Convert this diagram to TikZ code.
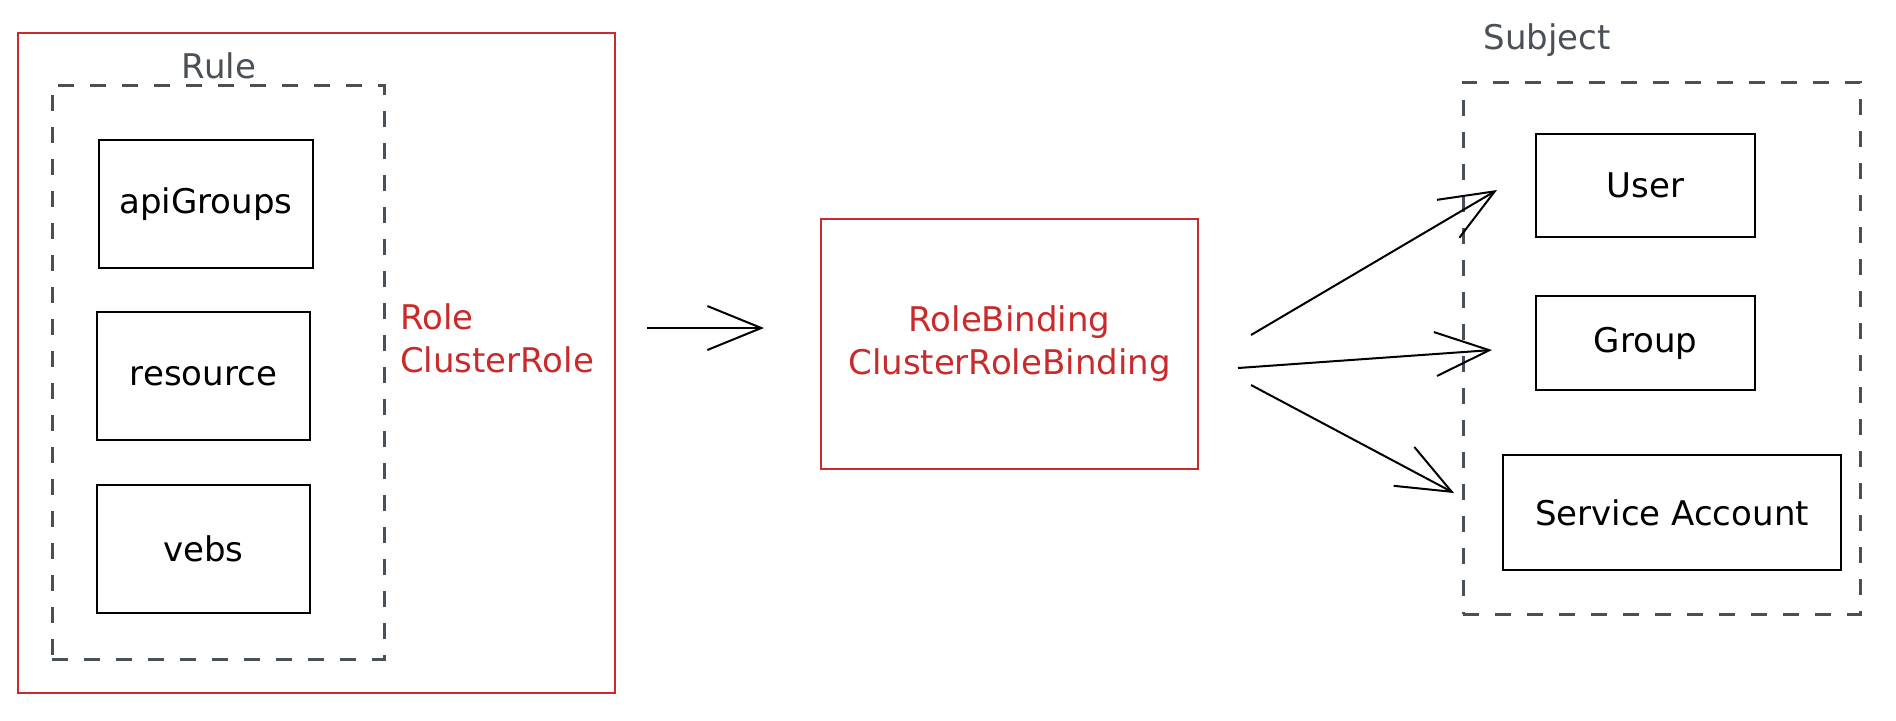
\documentclass[tikz,border=0pt]{standalone}
\usepackage{fontspec}
\setmainfont{DejaVu Sans}
\usepackage{xcolor}
\usepackage{tikz}
\usetikzlibrary{arrows.meta}

\definecolor{rolered}{HTML}{C92A2A}
\definecolor{graybox}{HTML}{495057}

\begin{document}
\begin{tikzpicture}[x=0.5pt, y=-0.5pt, font=\fontsize{17}{21.5}\selectfont,
  item/.style={draw, line width=1pt, minimum height=64pt},
  redbox/.style={draw=rolered, line width=1pt},
  group/.style={draw=graybox, line width=1.5pt, dash pattern=on 8pt off 8pt},
  title/.style={text=graybox},
  arr/.style={line width=1pt, -{Straight Barb[length=27pt, width=22pt, line width=1pt]}}]
\useasboundingbox (0,0) rectangle (1896,720);

% Role / ClusterRole
\node[redbox, minimum width=298.5pt, minimum height=330pt] (role) at (316.5,363) {};
\node[group, minimum width=166pt, minimum height=287pt] (rule) at (218,372) {};
\node[title] (rulelbl) at (219,66) {Rule};
\node[item, minimum width=107pt] (api) at (206,204) {apiGroups};
\node[item, minimum width=106.5pt] (res) at (203.5,376) {resource};
\node[item, minimum width=106.5pt] (verbs) at (203.5,549) {vebs};
\node[text=rolered, anchor=west, align=left] (rolelbl) at (393,338) {Role\\ClusterRole};

% RoleBinding
\node[redbox, minimum width=188.5pt, minimum height=125pt, text=rolered, align=center] (bind) at (1009.5,344) {RoleBinding\\ClusterRoleBinding};

% Subject
\node[group, minimum width=198.5pt, minimum height=266pt] (subj) at (1661.5,348) {};
\node[title] (subjlbl) at (1547,40) {Subject};
\node[item, minimum width=109.5pt, minimum height=51.5pt] (user) at (1645.5,185.5) {User};
\node[item, minimum width=109.5pt, minimum height=47pt] (grp) at (1645.5,343) {Group};
\node[item, minimum width=169pt, minimum height=57.5pt] (sa) at (1672,512.5) {Service Account};

\coordinate (r1) at (647,328);
\coordinate (b1) at (764,328);
\coordinate (o1) at (1251,335);
\coordinate (o2) at (1238,368);
\coordinate (o3) at (1251,385);
\coordinate (t1) at (1497,190);
\coordinate (t2) at (1492,350);
\coordinate (t3) at (1454,493);

\draw[arr] (r1)--(b1);
\draw[arr] (o1)--(t1);
\draw[arr] (o2)--(t2);
\draw[arr] (o3)--(t3);
\end{tikzpicture}
\end{document}
